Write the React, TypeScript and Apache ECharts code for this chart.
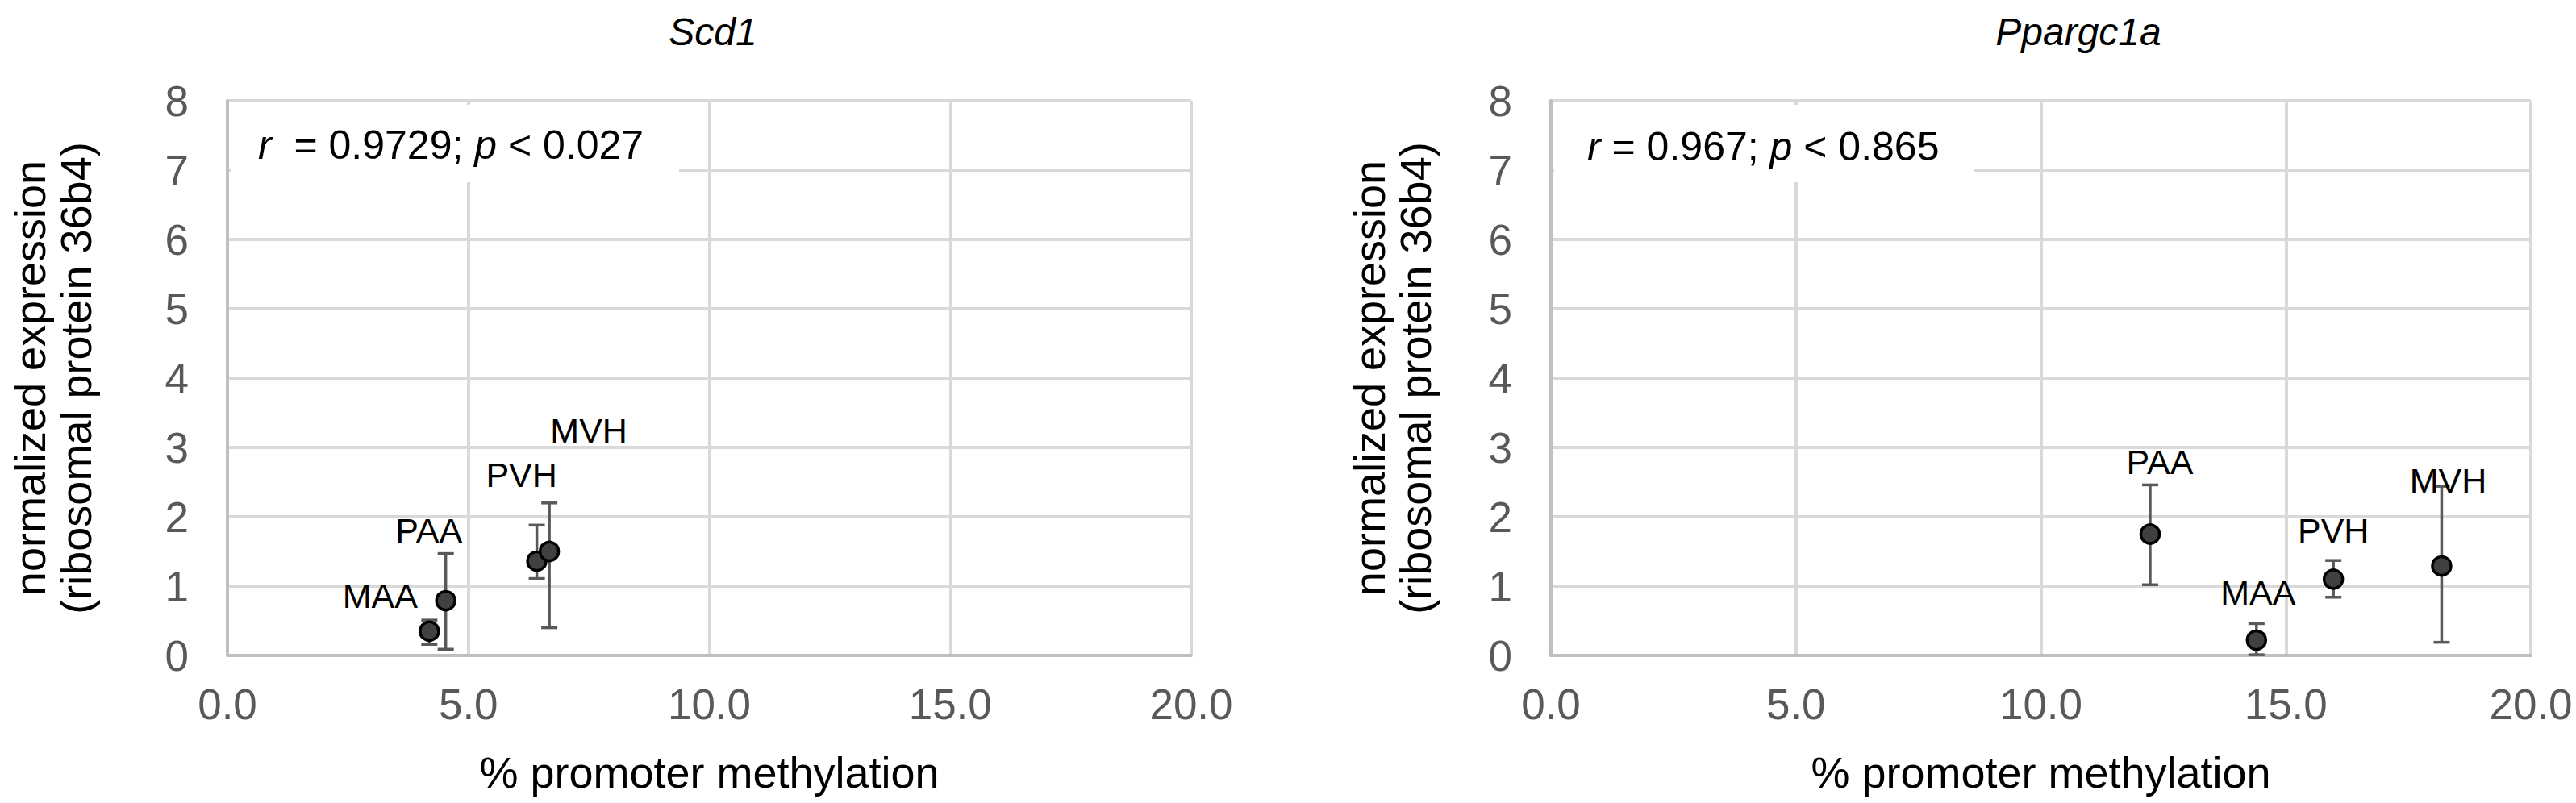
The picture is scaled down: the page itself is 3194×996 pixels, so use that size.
import React, { useEffect, useRef } from "react";
import * as echarts from "echarts";

const regions = ["MAA", "PAA", "PVH", "MVH"];

const scd1X = [4.19, 4.53, 6.42, 6.68];
const scd1Y = [0.35, 0.79, 1.36, 1.5];
const scd1ErrUp = [0.16, 0.68, 0.52, 0.7];
const scd1ErrDown = [0.19, 0.7, 0.25, 1.1];

const pgcX = [14.4, 12.23, 15.97, 18.18];
const pgcY = [0.22, 1.75, 1.1, 1.29];
const pgcErrUp = [0.24, 0.71, 0.27, 1.15];
const pgcErrDown = [0.21, 0.73, 0.26, 1.1];

const xTicks = [0, 5, 10, 15, 20];
const yTicks = [0, 1, 2, 3, 4, 5, 6, 7, 8];

const panelTitles = ["Scd1", "Ppargc1a"];
const statsLeft = { r: "0.9729", p: "0.027" };
const statsRight = { r: "0.967", p: "0.865" };

const FONT = "'Liberation Sans', Arial, sans-serif";

// label offsets (style only)
const leftLabelOffsets = [[-61, -44], [-21, -87], [-19, -107], [49, -150]];
const rightLabelOffsets = [[2, -59], [12, -90], [0, -60], [8, -106]];

function scatterData(xs: number[], ys: number[], offsets: number[][]) {
  return xs.map((x, i) => ({
    name: regions[i],
    value: [x, ys[i]],
    label: { offset: offsets[i] },
  }));
}

function errData(xs: number[], ys: number[], up: number[], down: number[]) {
  return xs.map((x, i) => [x, ys[i] - down[i], ys[i] + up[i]]);
}

function renderErr(params: any, api: any) {
  const x = api.value(0);
  const lo = api.coord([x, api.value(1)]);
  const hi = api.coord([x, api.value(2)]);
  const w = 10;
  const style = { stroke: "#595959", lineWidth: 3.5 };
  return {
    type: "group",
    children: [
      { type: "line", shape: { x1: lo[0], y1: lo[1], x2: hi[0], y2: hi[1] }, style },
      { type: "line", shape: { x1: lo[0] - w, y1: lo[1], x2: lo[0] + w, y2: lo[1] }, style },
      { type: "line", shape: { x1: hi[0] - w, y1: hi[1], x2: hi[0] + w, y2: hi[1] }, style },
    ],
  };
}

function xAxisCfg(gridIndex: number) {
  return {
    type: "value",
    gridIndex,
    min: xTicks[0],
    max: xTicks[xTicks.length - 1],
    interval: xTicks[1] - xTicks[0],
    name: "% promoter methylation",
    nameLocation: "middle",
    nameGap: 118,
    nameTextStyle: { fontFamily: FONT, fontSize: 54, color: "#000" },
    axisLine: { show: true, lineStyle: { color: "#bfbfbf", width: 4 } },
    axisTick: { show: false },
    axisLabel: {
      fontFamily: FONT,
      fontSize: 53,
      color: "#595959",
      margin: 34,
      formatter: (v: number) => v.toFixed(1),
    },
    splitLine: { show: true, lineStyle: { color: "#d9d9d9", width: 4 } },
  };
}

function yAxisCfg(gridIndex: number, nameGap: number) {
  return {
    type: "value",
    gridIndex,
    min: yTicks[0],
    max: yTicks[yTicks.length - 1],
    interval: yTicks[1] - yTicks[0],
    name: "normalized expression\n(ribosomal protein 36b4)",
    nameLocation: "middle",
    nameGap,
    nameTextStyle: { fontFamily: FONT, fontSize: 54, color: "#000", lineHeight: 57 },
    axisLine: { show: true, lineStyle: { color: "#bfbfbf", width: 4 } },
    axisTick: { show: false },
    axisLabel: { fontFamily: FONT, fontSize: 53, color: "#595959", margin: 48 },
    splitLine: { show: true, lineStyle: { color: "#d9d9d9", width: 4 } },
  };
}

function scatterSeries(idx: number, data: any[]) {
  return {
    type: "scatter",
    xAxisIndex: idx,
    yAxisIndex: idx,
    symbol: "circle",
    symbolSize: 23,
    z: 5,
    itemStyle: { color: "#404040", borderColor: "#000", borderWidth: 3.5, opacity: 1 },
    label: {
      show: true,
      position: "inside",
      formatter: "{b}",
      fontFamily: FONT,
      fontSize: 43,
      color: "#000",
    },
    emphasis: { disabled: true },
    data,
  };
}

function errSeries(idx: number, data: number[][]) {
  return {
    type: "custom",
    xAxisIndex: idx,
    yAxisIndex: idx,
    z: 3,
    renderItem: renderErr,
    encode: { x: 0, y: [1, 2] },
    data,
  };
}

function statBox(x: number, y: number, w: number, h: number, tx: number, ty: number, s: { r: string; p: string }, gap: string) {
  return {
    type: "group",
    z: 50,
    children: [
      { type: "rect", shape: { x, y, width: w, height: h }, style: { fill: "#fff" }, z: 50 },
      {
        type: "text",
        x: tx,
        y: ty,
        z: 51,
        style: {
          text: `{i|r}${gap}= ${s.r}; {i|p} < ${s.p}`,
          fontFamily: FONT,
          fontSize: 50,
          fill: "#000",
          verticalAlign: "middle",
          rich: {
            i: { fontStyle: "italic", fontFamily: FONT, fontSize: 50, fill: "#000" },
          },
        },
      },
    ],
  };
}

export default function App() {
  const ref = useRef<HTMLDivElement>(null);
  useEffect(() => {
    if (!ref.current) return;
    const chart = echarts.init(ref.current, null, { renderer: "svg" });
    chart.setOption({
      animation: false,
      backgroundColor: "#fff",
      title: [
        {
          text: panelTitles[0],
          left: 879,
          top: 10,
          textAlign: "center",
          textStyle: { fontFamily: FONT, fontSize: 48, fontStyle: "italic", fontWeight: "normal", color: "#000" },
        },
        {
          text: panelTitles[1],
          left: 2572,
          top: 10,
          textAlign: "center",
          textStyle: { fontFamily: FONT, fontSize: 48, fontStyle: "italic", fontWeight: "normal", color: "#000" },
        },
      ],
      grid: [
        { left: 282, right: 3194 - 1477, top: 125, bottom: 996 - 813, containLabel: false },
        { left: 1923, right: 3194 - 3138, top: 125, bottom: 996 - 813, containLabel: false },
      ],
      xAxis: [xAxisCfg(0), xAxisCfg(1)],
      yAxis: [yAxisCfg(0, 160), yAxisCfg(1, 140)],
      series: [
        errSeries(0, errData(scd1X, scd1Y, scd1ErrUp, scd1ErrDown)),
        scatterSeries(0, scatterData(scd1X, scd1Y, leftLabelOffsets)),
        errSeries(1, errData(pgcX, pgcY, pgcErrUp, pgcErrDown)),
        scatterSeries(1, scatterData(pgcX, pgcY, rightLabelOffsets)),
      ],
      graphic: [
        statBox(286, 130, 556, 96, 320, 180, statsLeft, "  "),
        statBox(1927, 130, 521, 96, 1968, 182, statsRight, " "),
      ],
    });
    return () => chart.dispose();
  }, []);
  return (
    <div
      ref={ref}
      style={{ position: "absolute", left: 0, top: 0, width: 3194, height: 996, background: "#fff" }}
    />
  );
}
